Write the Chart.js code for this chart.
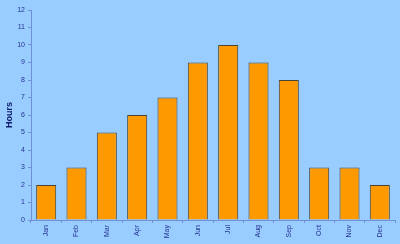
<!DOCTYPE html>
<html>
<head>
    <title>Hours per month</title>
    <script src="https://cdn.jsdelivr.net/npm/chart.js@4/dist/chart.umd.min.js"></script>
    <style>
        html, body { margin: 0; padding: 0; background-color: #99ccff; }
        .chart-container { width: 400px; height: 244px; }
    </style>
</head>
<body>
    <div class="chart-container">
        <canvas id="hoursChart"></canvas>
    </div>
    <script>
        const months = ['Jan', 'Feb', 'Mar', 'Apr', 'May', 'Jun', 'Jul', 'Aug', 'Sep', 'Oct', 'Nov', 'Dec'];
        const hours = [2, 3, 5, 6, 7, 9, 10, 9, 8, 3, 3, 2];

        const axisColor = '#6f8fd6';
        const labelColor = '#24338f';

        new Chart(document.getElementById('hoursChart').getContext('2d'), {
            type: 'bar',
            data: {
                labels: months,
                datasets: [{
                    label: 'Hours',
                    data: hours,
                    backgroundColor: '#ff9900',
                    borderColor: '#4a4438',
                    borderWidth: 1,
                    barPercentage: 0.66,
                    categoryPercentage: 1
                }]
            },
            options: {
                responsive: true,
                maintainAspectRatio: false,
                animation: false,
                layout: { padding: { top: 10, right: 5, left: 0, bottom: 0 } },
                plugins: {
                    legend: { display: false },
                    tooltip: { enabled: false }
                },
                scales: {
                    y: {
                        min: 0,
                        max: 12,
                        afterFit: s => { s.width = 31; },
                        ticks: {
                            stepSize: 1,
                            color: labelColor,
                            padding: 3,
                            font: { family: 'Liberation Sans', size: 7 }
                        },
                        grid: { drawOnChartArea: false, tickLength: 3, color: axisColor },
                        border: { color: axisColor },
                        title: {
                            display: true,
                            text: 'Hours',
                            color: '#10206e',
                            padding: { top: 4, bottom: 0 },
                            font: { family: 'Liberation Sans', size: 9, weight: 'bold' }
                        }
                    },
                    x: {
                        afterFit: s => { s.height = 24; },
                        ticks: {
                            color: labelColor,
                            minRotation: 90,
                            maxRotation: 90,
                            padding: 2,
                            font: { family: 'Liberation Sans', size: 7 }
                        },
                        grid: { offset: true, drawOnChartArea: false, tickLength: 3, color: axisColor },
                        border: { color: axisColor }
                    }
                }
            }
        });
    </script>
</body>
</html>
